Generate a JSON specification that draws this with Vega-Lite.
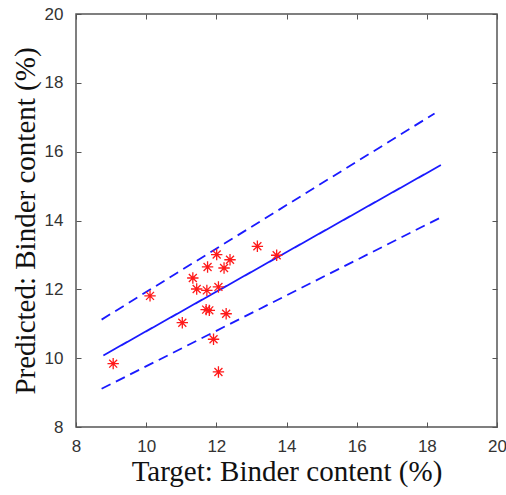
{
  "$schema": "https://vega.github.io/schema/vega-lite/v6.json",
  "width": 421,
  "height": 413,
  "autosize": "none",
  "padding": {"left": 76, "top": 14, "right": 9, "bottom": 68},
  "background": "white",
  "config": {
    "view": {"stroke": "#555555", "strokeWidth": 1.5},
    "axis": {
      "grid": false,
      "domain": false,
      "tickColor": "#555555",
      "tickSize": -5,
      "labelFont": "Liberation Sans",
      "labelFontSize": 17,
      "labelColor": "#333333",
      "titleFont": "Liberation Serif",
      "titleFontSize": 29,
      "titleFontWeight": "normal",
      "titleColor": "#111111"
    }
  },
  "datasets": {
    "pts": [
      {"target": 9.06, "predicted": 9.84},
      {"target": 10.11, "predicted": 11.81},
      {"target": 11.03, "predicted": 11.03},
      {"target": 11.33, "predicted": 12.33},
      {"target": 11.44, "predicted": 12.01},
      {"target": 11.75, "predicted": 12.65},
      {"target": 11.73, "predicted": 11.97},
      {"target": 12.01, "predicted": 13.01},
      {"target": 12.06, "predicted": 12.07},
      {"target": 12.22, "predicted": 12.62},
      {"target": 12.39, "predicted": 12.86},
      {"target": 11.71, "predicted": 11.41},
      {"target": 11.8, "predicted": 11.39},
      {"target": 12.28, "predicted": 11.29},
      {"target": 11.92, "predicted": 10.55},
      {"target": 12.06, "predicted": 9.6},
      {"target": 13.17, "predicted": 13.25},
      {"target": 13.72, "predicted": 12.99}
    ],
    "lines": [
      {"series": "fit", "target": 8.78, "predicted": 10.08},
      {"series": "fit", "target": 18.4, "predicted": 15.61},
      {"series": "upper", "target": 8.73, "predicted": 11.12},
      {"series": "upper", "target": 18.22, "predicted": 17.11},
      {"series": "lower", "target": 8.73, "predicted": 9.11},
      {"series": "lower", "target": 18.4, "predicted": 14.09}
    ]
  },
  "layer": [
    {
      "data": {"name": "lines"},
      "mark": {"type": "line", "color": "#1a1aff", "strokeWidth": 1.8},
      "encoding": {
        "x": {
          "field": "target", "type": "quantitative",
          "scale": {"domain": [8, 20], "nice": false},
          "axis": {"values": [8, 10, 12, 14, 16, 18, 20], "title": "Target: Binder content (%)", "labelPadding": 16, "titlePadding": 3, "labelFlush": false}
        },
        "y": {
          "field": "predicted", "type": "quantitative",
          "scale": {"domain": [8, 20], "nice": false},
          "axis": {"values": [8, 10, 12, 14, 16, 18, 20], "title": "Predicted: Binder content (%)", "labelPadding": 18, "titlePadding": 4, "labelFlush": false}
        },
        "strokeDash": {
          "field": "series", "type": "nominal",
          "scale": {"domain": ["fit", "upper", "lower"], "range": [[1, 0], [10, 6], [10, 6]]},
          "legend": null
        }
      }
    },
    {
      "data": {"name": "pts"},
      "mark": {
        "type": "point",
        "shape": "M0,-1L0,1M-1,0L1,0M-0.7,-0.7L0.7,0.7M-0.7,0.7L0.7,-0.7",
        "filled": false,
        "stroke": "#ff1a1a",
        "strokeWidth": 1.3,
        "size": 130,
        "opacity": 1
      },
      "encoding": {
        "x": {
          "field": "target", "type": "quantitative",
          "scale": {"domain": [8, 20], "nice": false},
          "axis": {"orient": "top", "values": [8, 10, 12, 14, 16, 18, 20], "labels": false, "title": null}
        },
        "y": {
          "field": "predicted", "type": "quantitative",
          "scale": {"domain": [8, 20], "nice": false},
          "axis": {"orient": "right", "values": [8, 10, 12, 14, 16, 18, 20], "labels": false, "title": null}
        }
      }
    }
  ],
  "resolve": {"axis": {"x": "independent", "y": "independent"}}
}
